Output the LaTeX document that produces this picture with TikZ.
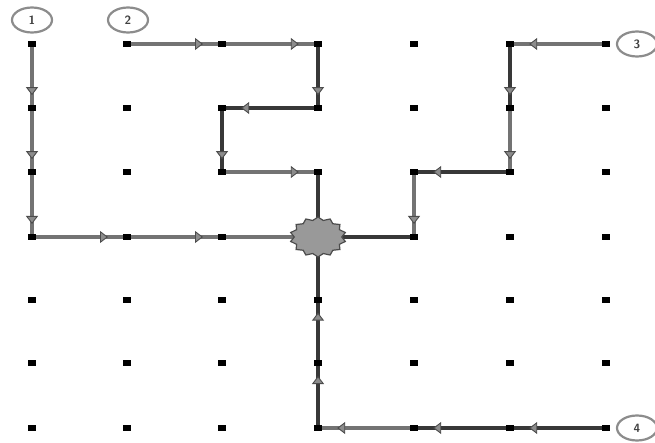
\documentclass[tikz,border=0pt]{standalone}
\usetikzlibrary{arrows.meta,decorations.markings,shapes.geometric}
\tikzset{
 lnd/.style={line width=4.6pt,draw=black!78},
 lng/.style={line width=4.6pt,draw=black!55},
 amk/.style={postaction={decorate},decoration={markings,mark=at position 0.8 with {\arrow{Triangle[length=8pt,width=12pt,fill=black!45,color=black!70,line width=0.9pt]}}}},
 dot/.style={rectangle,fill=black,minimum width=8pt,minimum height=6pt,inner sep=0pt},
 lbl/.style={ellipse,draw=black!45,line width=2.2pt,minimum width=40pt,minimum height=25pt,inner sep=0pt,font=\sffamily\bfseries\large,text=black!75},
 hub/.style={star,star points=14,star point ratio=1.18,fill=black!40,draw=black!70,line width=1.2pt,minimum size=40pt,xscale=1.4}
}
\begin{document}
\begin{tikzpicture}[x=1pt,y=-1pt]
\useasboundingbox (0,0) rectangle (655,443);
\fill[white] (0,0) rectangle (655,443);
\foreach \x [count=\i from 0] in {32,127,222,318,414,510,606}
  \foreach \y [count=\j from 0] in {44,108,172,237,300,363,428}
    \coordinate (g\i\j) at (\x,\y);
% path 1
\draw[lng,amk] (g00) -- (g01);
\draw[lng,amk] (g01) -- (g02);
\draw[lng,amk] (g02) -- (g03);
\draw[lng,amk] (g03) -- (g13);
\draw[lng,amk] (g13) -- (g23);
\draw[lng] (g23) -- (g33);
% path 2
\draw[lng,amk] (g10) -- (g20);
\draw[lng,amk] (g20) -- (g30);
\draw[lnd,amk] (g30) -- (g31);
\draw[lnd,amk] (g31) -- (g21);
\draw[lnd,amk] (g21) -- (g22);
\draw[lng,amk] (g22) -- (g32);
\draw[lnd] (g32) -- (g33);
% path 3
\draw[lng,amk] (g60) -- (g50);
\draw[lnd,amk] (g50) -- (g51);
\draw[lng,amk] (g51) -- (g52);
\draw[lnd,amk] (g52) -- (g42);
\draw[lng,amk] (g42) -- (g43);
\draw[lnd] (g43) -- (g33);
% path 4
\draw[lnd,amk] (g66) -- (g56);
\draw[lnd,amk] (g56) -- (g46);
\draw[lng,amk] (g46) -- (g36);
\draw[lnd,amk] (g36) -- (g35);
\draw[lnd,amk] (g35) -- (g34);
\draw[lnd] (g34) -- (g33);
% dots
\foreach \i in {0,...,6}
  \foreach \j in {0,...,6}
    \node[dot] (d\i\j) at (g\i\j) {};
% hub
\node[hub] (hub) at (g33) {};
% labels
\node[lbl] (l1) at (32,20) {1};
\node[lbl] (l2) at (128,20) {2};
\node[lbl] (l3) at (637,44) {3};
\node[lbl] (l4) at (637,428) {4};
\end{tikzpicture}
\end{document}
